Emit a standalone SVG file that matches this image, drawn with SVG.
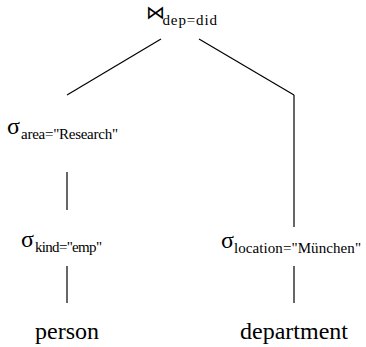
<svg xmlns="http://www.w3.org/2000/svg" width="366" height="347" viewBox="0 0 366 347">
<style>
text { font-family: 'Liberation Serif', 'Times New Roman', serif; fill: #000; }
.m { font-size: 24px; }
.s { font-size: 15px; }
.j { font-family: 'DejaVu Sans', sans-serif; font-size: 19px; }
.c line { stroke: #000; stroke-width: 1.2; }
</style>
<rect width="366" height="347" fill="#fff"/>
<g class="c" id="connectors">
<line x1="161" y1="39" x2="67" y2="95"/>
<line x1="199" y1="39" x2="294" y2="95"/>
<line x1="294" y1="95" x2="294" y2="227"/>
<line x1="67" y1="172" x2="67" y2="210"/>
<line x1="67" y1="266" x2="67" y2="303"/>
<line x1="294" y1="266" x2="294" y2="303"/>
</g>
<g id="join"><text class="j" x="146" y="19">⋈</text><text class="s" x="162.5" y="25" textLength="54.5">dep=did</text></g>
<g id="sel-area"><text class="m" x="7" y="134">σ</text><text class="s" x="21" y="139" textLength="97">area="Research"</text></g>
<g id="sel-kind"><text class="m" x="21" y="247">σ</text><text class="s" x="35" y="252" textLength="67">kind="emp"</text></g>
<g id="sel-location"><text class="m" x="221" y="248">σ</text><text class="s" x="234" y="253" textLength="127">location="München"</text></g>
<g id="person"><text class="m" x="35" y="339">person</text></g>
<g id="department"><text class="m" x="240" y="339">department</text></g>
</svg>
